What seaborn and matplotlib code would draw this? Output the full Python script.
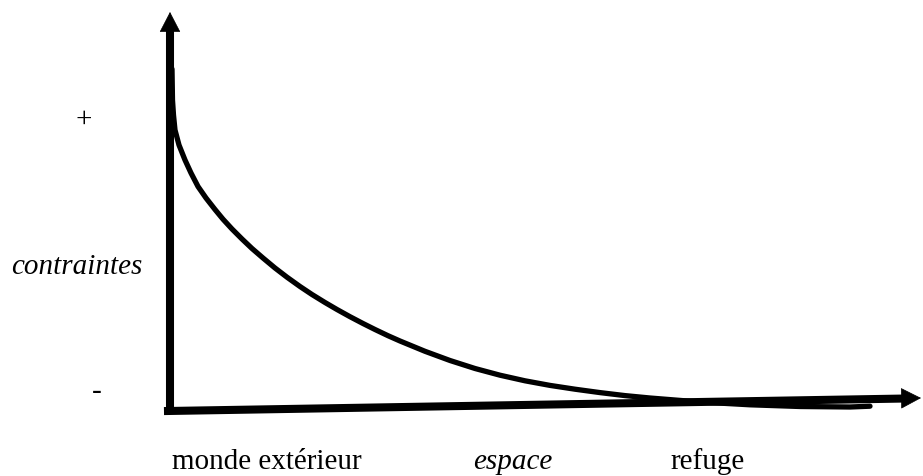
import matplotlib
matplotlib.use("Agg")
import matplotlib.pyplot as plt
import numpy as np
import pandas as pd
import seaborn as sns

# ---------------------------------------------------------------------------
# Data (origin = where the two axes meet)
# ---------------------------------------------------------------------------
espace = [2, 2, 2.5, 3.5, 5, 9, 15, 21, 28, 36, 45, 53, 62, 72, 82, 93,
          105, 117, 130, 142, 155, 167, 180, 193, 205, 218, 230, 255, 280,
          305, 330, 355, 380, 405, 430, 455, 480, 530, 580, 630, 680, 700]
contraintes = [352, 330, 310, 295, 280, 265, 250, 237, 223.5, 212, 200.5,
               190.8, 181, 171, 161.5, 152, 142, 132.8, 123.5, 115.5, 107.5,
               100.5, 93.3, 86.5, 80.5, 74.3, 69, 58.7, 49.5, 41.5, 34.8,
               29.2, 24.6, 20.8, 17.4, 14.4, 12, 8, 5.2, 3.5, 3, 3.8]

x_labels = ["monde extérieur", "espace", "refuge"]
x_label_pos = [2, 303, 500]
y_labels = ["+", "contraintes", "-"]
y_label_pos = [290, 143, 18]

df = pd.DataFrame({"espace": espace, "contraintes": contraintes})

sns.set_theme(style="white")
plt.rcParams["font.family"] = ["Liberation Serif", "DejaVu Serif"]
plt.rcParams["text.color"] = "black"

fig = plt.figure(figsize=(9.23, 4.76), dpi=100)
ax = fig.add_axes([0, 0, 1, 1])
ax.set_xlim(-170, 753)
ax.set_ylim(-66, 410)
ax.axis("off")

# decaying curve
sns.lineplot(data=df, x="espace", y="contraintes", sort=False,
             color="black", lw=3.8, ax=ax)

# axes: thick shafts + sharp filled heads
ax.plot([0, 0], [0, 382], color="black", lw=5.8, solid_capstyle="projecting")
ax.plot([-2, 736], [-1, 11.5], color="black", lw=5.8, solid_capstyle="projecting")
head = dict(arrowstyle="-|>,head_length=1.35,head_width=0.7",
            color="black", lw=0.5, shrinkA=0, shrinkB=0, mutation_scale=10)
ax.annotate("", xy=(0, 398), xytext=(0, 370), arrowprops=head)
ax.annotate("", xy=(751, 12), xytext=(720, 11.5), arrowprops=head)

# text
for lab, xp in zip(x_labels, x_label_pos):
    ax.text(xp, -52, lab, fontsize=21, ha="left", va="center",
            style="italic" if lab == "espace" else "normal")
for lab, yp in zip(y_labels, y_label_pos):
    xp = -28 if lab == "contraintes" else (-86 if lab == "+" else -73)
    ax.text(xp, yp, lab, fontsize=21, ha="right" if lab == "contraintes" else "center",
            va="center", style="italic" if lab == "contraintes" else "normal")

plt.savefig("out.png", dpi=100)
plt.close()
